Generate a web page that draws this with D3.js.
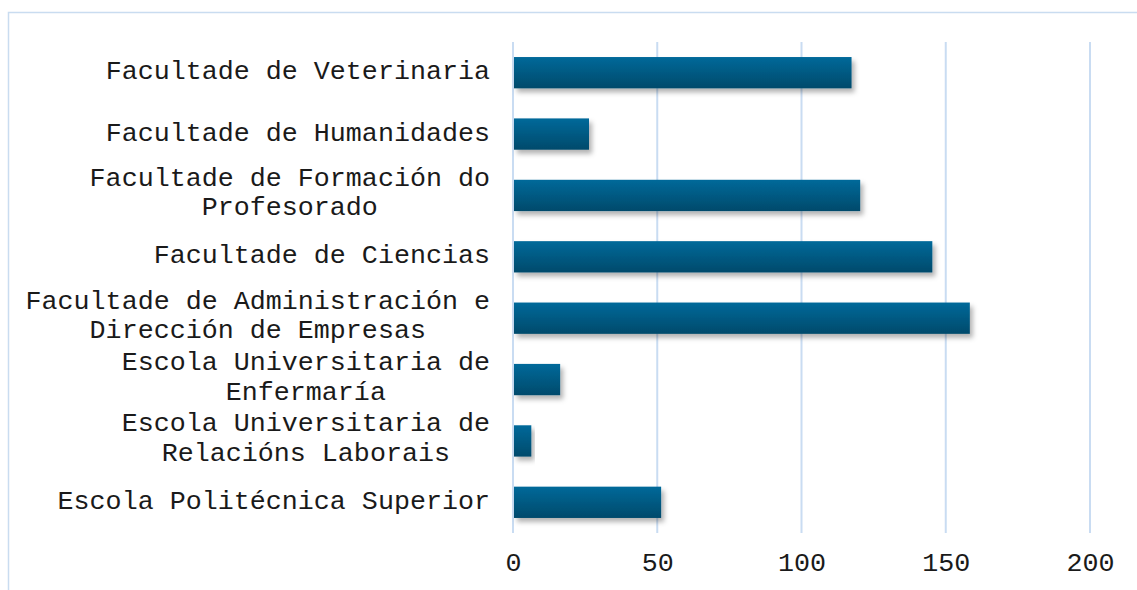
<!DOCTYPE html>
<html>
<head>
<meta charset="utf-8">
<script src="https://cdn.jsdelivr.net/npm/d3@7"></script>
<style>
  html, body { margin: 0; padding: 0; background: #fff; }
  #chart { width: 1137px; height: 590px; }
  text { font-family: "Liberation Mono", "DejaVu Sans Mono", monospace; fill: #1a1a1a; }
</style>
</head>
<body>
<div id="chart"></div>
<script>
// categories listed top to bottom as drawn
const categories = [
  'Facultade de Veterinaria',
  'Facultade de Humanidades',
  'Facultade de Formación do Profesorado',
  'Facultade de Ciencias',
  'Facultade de Administración e Dirección de Empresas',
  'Escola Universitaria de Enfermaría',
  'Escola Universitaria de Relacións Laborais',
  'Escola Politécnica Superior'
];
const values = [117, 26, 120, 145, 158, 16, 6, 51];
const xTicks = [0, 50, 100, 150, 200];

const width = 1137;
const height = 590;
const margin = { top: 42, right: 47, bottom: 57, left: 513 };
const fontSize = 26.7;
const lineHeight = 29.5;
const labelMaxWidth = 475;

const svg = d3.select('#chart')
  .append('svg')
  .attr('width', width)
  .attr('height', height);

const defs = svg.append('defs');

const grad = defs.append('linearGradient')
  .attr('id', 'barGrad')
  .attr('x1', 0).attr('y1', 0)
  .attr('x2', 0).attr('y2', 1);
grad.append('stop').attr('offset', '0%').attr('stop-color', '#05699a');
grad.append('stop').attr('offset', '100%').attr('stop-color', '#034a6b');

const shadow = defs.append('filter')
  .attr('id', 'barShadow')
  .attr('x', '-10%').attr('y', '-30%')
  .attr('width', '130%').attr('height', '180%');
shadow.append('feDropShadow')
  .attr('dx', 3)
  .attr('dy', 4)
  .attr('stdDeviation', 2.5)
  .attr('flood-color', '#000')
  .attr('flood-opacity', 0.3);

// outer chart border (runs off the right and bottom edges)
svg.append('rect')
  .attr('x', 8.5)
  .attr('y', 12.5)
  .attr('width', width)
  .attr('height', height)
  .attr('fill', 'none')
  .attr('stroke', '#c9dcf0')
  .attr('stroke-width', 1.5);

const innerW = width - margin.left - margin.right;
const innerH = height - margin.top - margin.bottom;

const x = d3.scaleLinear()
  .domain([0, 200])
  .range([0, innerW]);

const y = d3.scaleBand()
  .domain(categories)
  .range([0, innerH])
  .paddingInner(0.49)
  .paddingOuter(0.245);

const chartArea = svg.append('g')
  .attr('transform', `translate(${margin.left},${margin.top})`);

// vertical gridlines
chartArea.append('g')
  .attr('class', 'grid')
  .selectAll('line')
  .data(xTicks)
  .join('line')
  .attr('x1', d => x(d))
  .attr('x2', d => x(d))
  .attr('y1', 0)
  .attr('y2', innerH)
  .attr('stroke', '#c9dcf2')
  .attr('stroke-width', 2);

// bars
chartArea.append('g')
  .selectAll('rect')
  .data(values)
  .join('rect')
  .attr('x', x(0) + 1)
  .attr('y', (d, i) => y(categories[i]))
  .attr('width', d => x(d) - x(0))
  .attr('height', y.bandwidth())
  .attr('fill', 'url(#barGrad)')
  .attr('filter', 'url(#barShadow)');

// x axis
const xAxis = d3.axisBottom(x)
  .tickValues(xTicks)
  .tickSize(0)
  .tickPadding(0);

const xAxisG = chartArea.append('g')
  .attr('transform', `translate(0,${innerH})`)
  .call(xAxis);
xAxisG.select('.domain').remove();
xAxisG.selectAll('text')
  .attr('y', 38)
  .attr('dy', 0)
  .style('font-size', `${fontSize}px`)
  .style('font-family', '"Liberation Mono", "DejaVu Sans Mono", monospace')
  .attr('fill', '#1a1a1a');

// y axis labels: wrapped, lines centred within a right-aligned block
const labelRight = -23;
const labelG = chartArea.append('g').attr('class', 'y-labels');

categories.forEach(cat => {
  const measure = labelG.append('text')
    .style('font-size', `${fontSize}px`)
    .attr('visibility', 'hidden');

  const words = cat.split(' ');
  const lines = [];
  let current = [];
  words.forEach(w => {
    const trial = current.concat(w).join(' ');
    measure.text(trial);
    if (current.length && measure.node().getComputedTextLength() > labelMaxWidth) {
      lines.push(current.join(' '));
      current = [w];
    } else {
      current.push(w);
    }
  });
  lines.push(current.join(' '));

  const widths = lines.map(l => {
    measure.text(l);
    return measure.node().getComputedTextLength();
  });
  measure.remove();

  const blockW = d3.max(widths);
  const cx = labelRight - blockW / 2;
  const center = y(cat) + y.bandwidth() / 2;
  const firstBaseline = lines.length > 1
    ? center - 9.5 - (lines.length - 2) * lineHeight / 2
    : center + 6.5;

  const text = labelG.append('text')
    .attr('text-anchor', 'middle')
    .style('font-size', `${fontSize}px`);

  lines.forEach((l, i) => {
    text.append('tspan')
      .attr('x', cx)
      .attr('y', firstBaseline + i * lineHeight)
      .text(l);
  });
});
</script>
</body>
</html>
